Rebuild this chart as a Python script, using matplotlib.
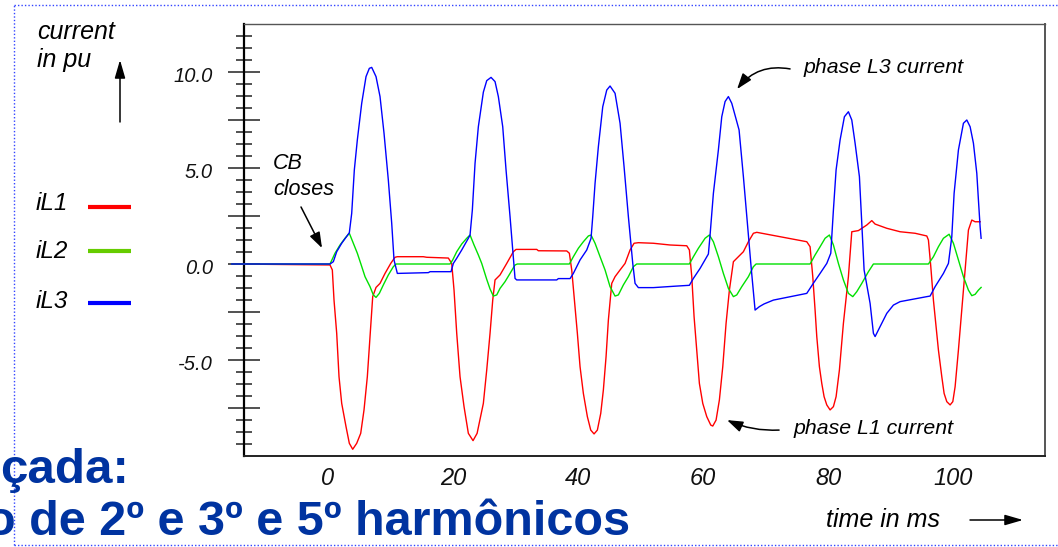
import matplotlib
matplotlib.use("Agg")
import matplotlib.pyplot as plt
from matplotlib.lines import Line2D
from matplotlib.ticker import FixedLocator
from matplotlib.transforms import offset_copy, blended_transform_factory

plt.rcParams['font.family'] = ['Liberation Sans', 'DejaVu Sans']

# ---------------- data (time in ms, current in pu) ----------------
t_L1 = [-15.4, 0.32, 0.69, 0.96, 1.39, 1.76, 2.19, 2.88, 3.41, 3.95,
        4.59, 5.23, 5.76, 6.29, 6.72, 7.15, 7.68, 8.32, 9.12, 10.03,
        10.72, 11.09, 15.25, 15.79, 19.25, 19.79, 20.16, 20.59, 21.12, 21.76,
        22.45, 23.2, 23.85, 24.45, 24.85, 25.39, 25.92, 26.35, 26.72, 27.52,
        28.59, 29.65, 30.08, 33.39, 33.65, 38.19, 38.61, 38.99, 39.41, 39.89,
        40.32, 40.85, 41.49, 42.03, 42.56, 43.09, 43.63, 44.05, 44.48, 44.85,
        45.39, 45.92, 46.72, 47.52, 48.32, 48.96, 49.65, 52.05, 54.72, 57.39,
        57.81, 58.19, 58.56, 58.99, 59.41, 59.95, 60.59, 61.23, 61.55, 62.08,
        62.61, 63.15, 63.68, 64.21, 64.85, 65.65, 66.45, 67.25, 68.05, 68.59,
        72.32, 76.59, 77.12, 77.55, 77.92, 78.19, 78.61, 78.99, 79.36, 79.79,
        80.32, 80.85, 81.28, 81.81, 82.45, 83.25, 83.79, 84.85, 86.19, 86.99,
        87.52, 89.39, 91.52, 93.92, 95.79, 96.05, 96.43, 96.85, 97.28, 97.65,
        98.19, 98.56, 98.99, 99.52, 99.95, 100.32, 100.85, 101.39, 101.92, 102.45,
        102.99, 103.52, 104.32]
i_L1 = [0, -0.05, -0.31, -1.88, -3.61, -5.87, -7.26, -8.47, -9.34, -9.65,
        -9.34, -8.82, -7.6, -5.87, -3.78, -1.70, -1.22, -1.01, -0.49, 0.03,
        0.35, 0.38, 0.38, 0.35, 0.31, 0.03, -1.36, -3.61, -5.87, -7.43,
        -8.82, -9.2, -8.82, -7.9, -7.26, -5.52, -3.61, -1.88, -0.83, -0.57,
        0.03, 0.64, 0.76, 0.76, 0.69, 0.68, 0.56, -0.31, -1.88, -3.61,
        -5.35, -6.74, -7.95, -8.65, -8.85, -8.65, -7.78, -6.56, -4.83, -2.92,
        -1.01, -0.66, -0.31, 0.03, 0.73, 1.08, 1.11, 1.08, 0.99, 0.95,
        0.73, -0.66, -2.74, -4.48, -6.22, -7.26, -7.95, -8.39, -8.44, -8.13,
        -7.08, -5.35, -3.09, -1.36, 0.12, 0.38, 0.64, 1.16, 1.6, 1.65,
        1.42, 1.16, 0.9, -0.66, -2.4, -3.78, -5.35, -6.22, -6.91, -7.34,
        -7.6, -7.43, -6.91, -5.52, -3.09, -0.66, 1.68, 1.74, 2.03, 2.26,
        2.08, 1.86, 1.68, 1.6, 1.46, 1.25, -0.14, -1.88, -3.26, -4.48,
        -5.87, -6.74, -7.17, -7.34, -7.17, -6.39, -4.48, -2.4, -0.31, 1.77,
        2.29, 2.2, 2.2]

t_L2 = [-15.4, 0.32, 1.12, 1.92, 2.72, 3.41, 4.05, 4.69, 5.23, 5.92,
        6.72, 7.25, 7.68, 8.21, 8.85, 9.65, 10.45, 10.88, 19.52, 19.95,
        20.59, 21.39, 22.19, 22.72, 23.36, 24.05, 24.59, 25.39, 25.92, 26.45,
        26.99, 27.52, 28.32, 29.12, 29.92, 30.29, 38.61, 39.25, 40.05, 40.85,
        41.65, 42.08, 42.72, 43.52, 44.32, 45.12, 45.92, 46.45, 47.25, 48.05,
        48.85, 49.39, 57.81, 58.45, 59.25, 60.32, 61.01, 61.65, 62.45, 63.25,
        64.05, 64.85, 65.39, 66.19, 67.25, 68.05, 68.48, 77.12, 77.92, 78.72,
        79.52, 80.21, 80.85, 81.65, 82.45, 83.25, 83.95, 84.59, 85.39, 86.45,
        87.25, 96.05, 96.85, 97.65, 98.45, 99.36, 100.05, 100.85, 101.65, 102.45,
        102.99, 103.52, 104.05, 104.48]
i_L2 = [0, 0, 0.56, 0.99, 1.34, 1.6, 1.08, 0.56, 0.03, -0.66,
        -1.18, -1.61, -1.74, -1.53, -1.09, -0.57, -0.14, 0, 0, 0.21,
        0.64, 1.04, 1.34, 1.51, 0.99, 0.47, 0.03, -0.8, -1.3, -1.67,
        -1.61, -1.27, -0.92, -0.49, -0.05, 0, 0, 0.38, 0.82, 1.16,
        1.46, 1.51, 1.08, 0.38, -0.31, -1.18, -1.67, -1.61, -1.09, -0.66,
        -0.14, 0, 0, 0.38, 0.82, 1.34, 1.51, 1.16, 0.38, -0.49,
        -1.27, -1.70, -1.61, -1.18, -0.66, -0.14, 0, 0, 0.47, 0.9,
        1.34, 1.51, 0.99, 0.03, -0.83, -1.53, -1.70, -1.44, -1.01, -0.4,
        0, 0, 0.38, 0.9, 1.34, 1.55, 1.08, 0.21, -0.66, -1.36,
        -1.65, -1.58, -1.36, -1.22]

t_L3 = [-15.4, 0.32, 0.85, 1.39, 2.19, 3.41, 3.79, 4.21, 4.69, 5.39,
        6.08, 6.61, 6.99, 7.68, 8.32, 8.96, 9.65, 10.19, 10.56, 11.09,
        16.05, 16.32, 19.68, 20.05, 20.59, 21.39, 22.45, 22.72, 23.09, 23.52,
        24.05, 24.85, 25.39, 26.08, 26.72, 27.25, 27.95, 28.48, 29.12, 29.55,
        29.92, 30.19, 36.59, 36.85, 38.72, 39.25, 40.32, 41.39, 42.08, 42.35,
        42.72, 43.25, 43.95, 44.59, 45.12, 45.92, 46.72, 47.36, 48.05, 48.75,
        49.12, 49.65, 52.05, 55.79, 57.81, 58.45, 59.52, 60.85, 61.12, 61.65,
        62.45, 62.99, 63.52, 64.05, 64.59, 65.76, 66.45, 67.09, 67.68, 68.32,
        69.01, 69.76, 71.25, 76.59, 77.65, 78.72, 79.79, 80.43, 80.85, 81.28,
        81.92, 82.61, 83.25, 83.79, 84.32, 85.01, 85.39, 85.76, 86.72, 87.25,
        87.52, 88.32, 89.39, 90.45, 91.52, 95.79, 96.32, 97.12, 98.45, 99.25,
        99.79, 100.16, 100.85, 101.65, 102.19, 102.72, 103.25, 103.79, 104.05, 104.32,
        104.48]
i_L3 = [0, 0, 0.12, 0.64, 1.08, 1.63, 2.64, 4.9, 6.46, 8.37,
        9.76, 10.19, 10.24, 9.76, 8.72, 6.81, 4.37, 2.12, 0.21, -0.49,
        -0.45, -0.40, -0.40, 0.03, 0.3, 0.73, 1.34, 1.51, 2.81, 5.24,
        7.15, 8.95, 9.55, 9.72, 9.5, 8.72, 7.15, 4.9, 2.47, 0.73,
        -0.75, -0.83, -0.83, -0.76, -0.76, -0.49, 0.21, 0.73, 1.34, 2.47,
        4.2, 6.11, 8.19, 9.06, 9.27, 8.89, 7.33, 5.07, 2.47, 0.03,
        -1.01, -1.23, -1.23, -1.15, -1.11, -0.75, -0.23, 0.52, 1.51, 3.68,
        5.94, 7.67, 8.46, 8.72, 8.37, 6.98, 4.55, 2.12, -0.14, -2.4,
        -2.22, -2.08, -1.88, -1.53, -1.0, -0.49, 0.03, 0.56, 2.81, 4.9,
        6.46, 7.67, 7.93, 7.5, 6.29, 4.55, 2.12, -0.31, -2.05, -3.61,
        -3.78, -3.26, -2.57, -2.14, -1.96, -1.70, -1.67, -1.18, -0.49, 0.03,
        1.42, 3.68, 5.94, 7.33, 7.5, 7.15, 6.29, 4.72, 3.33, 1.94,
        1.34]

series_names = ['iL1', 'iL2', 'iL3']
xtick_vals = [0, 20, 40, 60, 80, 100]
xtick_labels = ['0', '20', '40', '60', '80', '100']
ylabel_vals = [10, 5, 0, -5]
ylabel_txt = ['10.0', '5.0', '0.0', '-5.0']
ymajor = [-7.5, -5, -2.5, 0, 2.5, 5, 7.5, 10]
yminor = [-9.375, -8.75, -8.125, -6.875, -6.25, -5.625, -4.375, -3.75, -3.125,
          -1.875, -1.25, -0.625, 0.625, 1.25, 1.875, 3.125, 3.75, 4.375,
          5.625, 6.25, 6.875, 8.125, 8.75, 9.375, 10.625, 11.25, 11.875]

# ---------------- figure ----------------
W, H = 1058, 547
fig = plt.figure(figsize=(W / 100, H / 100), dpi=100)

def fx(px):
    return px / W

def fy(py):
    return 1 - py / H

ax = fig.add_axes([fx(244), fy(456), fx(1045) - fx(244), fy(24) - fy(456)])
ax.set_xlim(-13.44, 114.7)
ax.set_ylim(-10, 12.5)

line_red = '#ff0000'
line_green = '#00e000'
line_blue = '#0000ff'
ax.plot(t_L1, i_L1, color=line_red, lw=1.0, clip_on=False, zorder=3)
ax.plot(t_L2, i_L2, color=line_green, lw=1.0, clip_on=False, zorder=4)
ax.plot(t_L3, i_L3, color=line_blue, lw=1.0, clip_on=False, zorder=5)

# spines
ax.spines['left'].set(lw=1.6, color='black')
ax.spines['bottom'].set(lw=1.4, color='#222222')
ax.spines['top'].set(lw=1.0, color='#555555')
ax.spines['right'].set(lw=1.4, color='#555555')

# y ticks
ax.yaxis.set_major_locator(FixedLocator(ymajor))
ax.yaxis.set_minor_locator(FixedLocator(yminor))
ax.tick_params(axis='y', which='major', direction='inout', length=22.5,
               width=1.1, color='#222222', labelleft=False)
ax.tick_params(axis='y', which='minor', direction='inout', length=11.5,
               width=1.1, color='#222222')
ylab_tr = offset_copy(blended_transform_factory(ax.transAxes, ax.transData),
                      fig=fig, x=-31, y=-4, units='dots')
for v, s in zip(ylabel_vals, ylabel_txt):
    ax.text(0, v, s, transform=ylab_tr, ha='right', va='center',
            fontsize=14.5, fontstyle='italic', color='#111111')

# x ticks
ax.set_xticks(xtick_vals, xtick_labels, fontsize=17, fontstyle='italic',
              color='#111111')
ax.tick_params(axis='x', length=0, pad=8)

# ---------------- annotations ----------------
arrow_kw = dict(arrowstyle='-|>,head_length=0.95,head_width=0.33',
                color='black', lw=1.1, mutation_scale=10, shrinkA=0, shrinkB=0)

ax.text(-8.8, 5.26, 'CB', fontsize=15.5, fontstyle='italic', ha='left', va='center')
ax.text(-8.8, 3.9, 'closes', fontsize=15.5, fontstyle='italic', ha='left', va='center')
ax.annotate('', xy=(-0.96, 0.83), xytext=(-4.32, 2.97), arrowprops=arrow_kw)

ax.text(76.0, 10.21, 'phase L3 current', fontsize=15.3, fontstyle='italic',
        ha='left', va='center')
ax.annotate('', xy=(65.44, 9.11), xytext=(73.92, 10.16),
            arrowprops=dict(arrow_kw, connectionstyle='arc3,rad=0.3'))

ax.text(74.4, -8.59, 'phase L1 current', fontsize=15.3, fontstyle='italic',
        ha='left', va='center')
ax.annotate('', xy=(63.84, -8.13), xytext=(72.16, -8.65),
            arrowprops=dict(arrow_kw, connectionstyle='arc3,rad=-0.12'))

# axis labels with arrows
fig.text(fx(37), fy(32), 'current', fontsize=18, fontstyle='italic', ha='left', va='center')
fig.text(fx(37), fy(60), 'in pu', fontsize=18, fontstyle='italic', ha='left', va='center')
big_arrow = dict(arrowstyle='-|>,head_length=1.1,head_width=0.32',
                 color='black', lw=1.1, mutation_scale=10, shrinkA=0, shrinkB=0)
ax.annotate('', xy=(120, H - 60), xytext=(120, H - 122),
            xycoords='figure pixels', textcoords='figure pixels',
            arrowprops=big_arrow, annotation_clip=False)

fig.text(fx(826), fy(520), 'time in ms', fontsize=18, fontstyle='italic', ha='left', va='center')
ax.annotate('', xy=(1023, H - 520), xytext=(970, H - 520),
            xycoords='figure pixels', textcoords='figure pixels',
            arrowprops=big_arrow, annotation_clip=False)

# legend (label first, then line)
leg_colors = ['#ff0000', '#66cc00', '#0000ff']
leg_text_y = [203, 252, 301]
leg_line_y = [207, 251, 303]
for name, c, ty, ly in zip(series_names, leg_colors, leg_text_y, leg_line_y):
    fig.text(fx(36), fy(ty), name, fontsize=17.5, fontstyle='italic', ha='left', va='center')
    fig.add_artist(Line2D([fx(88), fx(131)], [fy(ly), fy(ly)], color=c, lw=3.0,
                          solid_capstyle='butt'))

# dotted slide frame
frame_kw = dict(color='#3344ff', lw=1.0, linestyle=(0, (1, 1.5)), zorder=0)
fig.add_artist(Line2D([fx(14), fx(14)], [fy(545), fy(5)], **frame_kw))
fig.add_artist(Line2D([fx(14), fx(1060)], [fy(5), fy(5)], **frame_kw))
fig.add_artist(Line2D([fx(14), fx(1060)], [fy(545), fy(545)], **frame_kw))

# cut-off slide title behind the chart
title_color = '#0033a0'
fig.text(fx(129), fy(483), 'çada:', fontsize=35.5, fontweight='bold',
         color=title_color, ha='right', va='baseline')
fig.text(fx(-14), fy(535), 'o de 2º e 3º e 5º harmônicos', fontsize=35,
         fontweight='bold', color=title_color, ha='left', va='baseline')

fig.savefig('out.png', dpi=100)
